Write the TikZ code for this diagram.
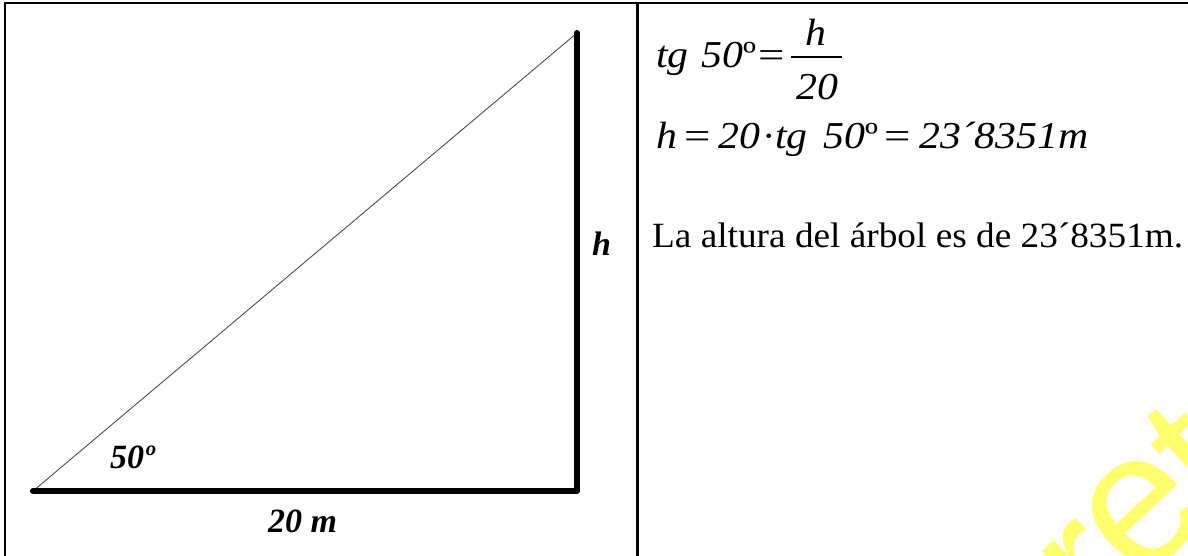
\documentclass[tikz,border=0pt]{standalone}
\usepackage{fontspec}
\setmainfont{Liberation Serif}[FakeStretch=1.05]
\newfontfamily\mathfont{Liberation Serif}[FakeStretch=1.1]
\newfontfamily\labfont{Liberation Serif}
\newfontfamily\wmfont{Liberation Sans}
\newcommand{\bigeq}{\scalebox{1.15}[1]{=}}
\begin{document}
\begin{tikzpicture}[x=1pt,y=-1pt,
  frame/.style={line width=2.2pt},
  thick side/.style={line width=6pt,line cap=round,line join=round},
  hypo/.style={line width=0.9pt,black!70},
  lab/.style={inner sep=0pt,anchor=base west,font=\labfont\fontsize{34}{40}\selectfont\bfseries\itshape},
  txt/.style={inner sep=0pt,anchor=base west,font=\fontsize{35.5}{40}\selectfont},
  mtx/.style={inner sep=0pt,anchor=base west,font=\mathfont\fontsize{37}{40}\selectfont},
  itx/.style={mtx,font=\mathfont\fontsize{38}{40}\selectfont\itshape},
  wm/.style={inner sep=0pt,text={rgb,255:red,255;green,255;blue,110},font=\wmfont\fontsize{190}{190}\selectfont,rotate=43}]
\useasboundingbox (0,0) rectangle (1188,556);
\begin{scope}
\clip (0,0) rectangle (1188,556);
% watermark
\node[wm] (wme) at (1143,513) {e};
\node[wm] (wmr) at (1090,575) {r};
\node[wm] (wmt) at (1195,458) {t};
% table frame
\coordinate (tl) at (5,3);
\coordinate (tr) at (1190,3);
\coordinate (bl) at (5,560);
\coordinate (mt) at (637.5,3);
\coordinate (mb) at (637.5,560);
\draw[frame] (bl) -- (tl) -- (tr);
\draw[frame] (mt) -- (mb);
\end{scope}
% triangle
\coordinate (A) at (33,491);
\coordinate (B) at (577,491);
\coordinate (C) at (577,33);
\draw[hypo] (A) -- (C);
\draw[thick side] (A) -- (B) -- (C);
\node[lab] (ang) at (110,468) {50º};
\node[lab] (base) at (268,532) {20 m};
\node[lab] (hl) at (592,255) {h};
% formula line 1
\node[itx] (f1a) at (656,68) {tg};
\node[itx] (f1b) at (701,68) {50\textup{º}};
\node[mtx] (f1c) at (758,68) {\bigeq};
\coordinate (bar1) at (791,57);
\coordinate (bar2) at (842,57);
\draw[line width=1.4pt] (bar1) -- (bar2);
\node[itx,anchor=base] (f1h) at (816,46) {h};
\node[itx,anchor=base] (f1d) at (817,100) {20};
% formula line 2
\node[itx] (f2a) at (656,149) {h};
\node[mtx] (f2b) at (684,149) {\bigeq};
\node[itx] (f2c) at (718,149) {20};
\node[mtx] (f2d) at (762,149) {·};
\node[itx] (f2e) at (775,149) {tg};
\node[itx] (f2f) at (823,149) {50\textup{º}};
\node[mtx] (f2g) at (884,149) {\bigeq};
\node[itx] (f2h) at (919,149) {23´8351m};
% sentence
\node[txt] (res) at (652,247) {La altura del árbol es de 23´8351m.};
\end{tikzpicture}
\end{document}
